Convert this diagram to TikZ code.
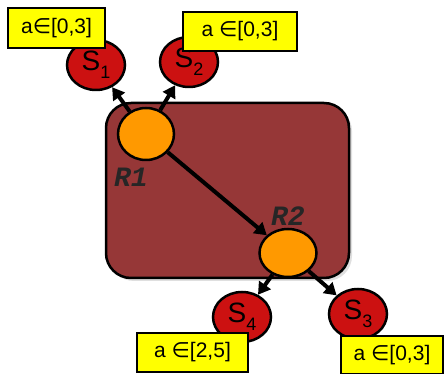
\documentclass[tikz,border=0pt]{standalone}
\usepackage{fontspec}
\setmainfont{Liberation Sans}
\setmonofont{Liberation Mono}
\newfontfamily\symf{DejaVu Sans}
\usetikzlibrary{arrows.meta,shadows,shapes.geometric}
\definecolor{regred}{HTML}{963737}
\definecolor{sred}{HTML}{CC1111}
\definecolor{rorange}{HTML}{FF9900}
\definecolor{lyellow}{HTML}{FFFF00}
\tikzset{
  region/.style={draw=black, line width=2.5pt, fill=regred, rounded corners=25pt, inner sep=0pt,
    drop shadow={opacity=0.25, shadow xshift=3pt, shadow yshift=-3pt}},
  rnode/.style={ellipse, draw=black, line width=2.5pt, fill=rorange, inner sep=0pt},
  snode/.style={ellipse, draw=black, line width=2.5pt, fill=sred, inner sep=0pt,
    minimum width=58pt, minimum height=50pt, font=\fontsize{28}{28}\selectfont},
  lab/.style={draw=black, line width=2pt, fill=lyellow, inner sep=0pt,
    font=\fontsize{21}{21}\selectfont},
  rlab/.style={text=black!85, font=\ttfamily\bfseries\itshape\fontsize{28}{28}\selectfont},
  arr/.style={line width=4pt, -{Triangle[length=12pt,width=14pt]}},
}
\newcommand{\sub}[1]{\raisebox{-8pt}{\fontsize{18}{18}\selectfont #1}}
\newcommand{\elt}{{\symf ∈}}
\begin{document}
\begin{tikzpicture}[x=1pt,y=-1pt]
\useasboundingbox (0,0) rectangle (448,374);
\node[region, minimum width=243pt, minimum height=175pt] (reg) at (227.5,190.5) {};
\node[rnode, minimum width=56pt, minimum height=52pt] (r1) at (146,134) {};
\node[rnode, minimum width=57pt, minimum height=48pt] (r2) at (288,253) {};
\node[rlab] (r1l) at (131,177) {R1};
\node[rlab] (r2l) at (288,216) {R2};
\node[snode] (s1) at (96,65) {S\sub{1}};
\node[snode] (s2) at (189,62) {S\sub{2}};
\node[snode] (s4) at (242,317) {S\sub{4}};
\node[snode] (s3) at (358,314) {S\sub{3}};
\draw[arr] (r1) -- (s1);
\draw[arr] (r1) -- (s2);
\draw[arr] (r1) -- (r2);
\draw[arr] (r2) -- (s4);
\draw[arr] (r2) -- (s3);
\node[lab, minimum width=97pt, minimum height=40pt] (l1) at (56.5,28) {a\elt[0,3]};
\node[lab, minimum width=114pt, minimum height=39pt] (l2) at (240,31.5) {a \elt[0,3]};
\node[lab, minimum width=111pt, minimum height=39pt] (l4) at (192.5,352.5) {a \elt[2,5]};
\node[lab, minimum width=102pt, minimum height=38pt] (l3) at (392,355) {a \elt[0,3]};
\end{tikzpicture}
\end{document}
